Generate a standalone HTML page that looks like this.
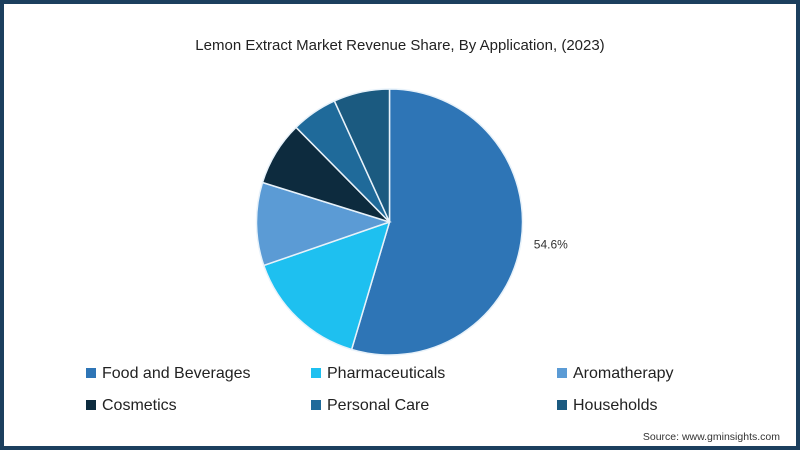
<!DOCTYPE html>
<html><head><meta charset="utf-8"><style>
html,body{margin:0;padding:0;background:#fff}
#frame{position:relative;width:800px;height:450px;box-sizing:border-box;border:4px solid #1c3f5e;background:#fff;font-family:"Liberation Sans","DejaVu Sans",sans-serif;overflow:hidden}
#title{position:absolute;left:0;top:33px;width:792px;text-align:center;font-size:15px;color:#222}
.leg{position:absolute;font-size:16px;color:#222;white-space:nowrap}
.leg span.sw{display:inline-block;width:10px;height:10px;margin-right:6px;vertical-align:0px}
#src{position:absolute;right:16px;top:427px;font-size:10.5px;color:#333}
svg{position:absolute;left:0;top:0}
</style></head><body>
<div id="frame">
<div id="title">Lemon Extract Market Revenue Share, By Application, (2023)</div>
<svg id="pie" width="792" height="442"></svg>
<div class="leg" style="left:82px;top:361px"><span class="sw" style="background:#2e75b6"></span>Food and Beverages</div>
<div class="leg" style="left:307px;top:361px"><span class="sw" style="background:#1ec0f0"></span>Pharmaceuticals</div>
<div class="leg" style="left:553px;top:361px"><span class="sw" style="background:#5b9bd5"></span>Aromatherapy</div>
<div class="leg" style="left:82px;top:393px"><span class="sw" style="background:#0d2b3e"></span>Cosmetics</div>
<div class="leg" style="left:307px;top:393px"><span class="sw" style="background:#1f6a9a"></span>Personal Care</div>
<div class="leg" style="left:553px;top:393px"><span class="sw" style="background:#1b5a80"></span>Households</div>
<div id="src">Source: www.gminsights.com</div>
</div>
<script>
const categories = ["Food and Beverages","Pharmaceuticals","Aromatherapy","Cosmetics","Personal Care","Households"];
const shares = [54.6, 15.1, 10.1, 7.8, 5.6, 6.8];
const colors = ["#2e75b6","#1ec0f0","#5b9bd5","#0d2b3e","#1f6a9a","#1b5a80"];
const labels = ["54.6%"];
const svg = document.getElementById('pie');
const NS = "http://www.w3.org/2000/svg";
const cx = 385.5, cy = 218, r = 133;
const total = shares.reduce((a,b)=>a+b,0);
function pt(a, rad){ return [cx + rad*Math.sin(a), cy - rad*Math.cos(a)]; }
let a0 = 0;
shares.forEach((v,i)=>{
  const a1 = a0 + v/total*2*Math.PI;
  const p0 = pt(a0,r), p1 = pt(a1,r);
  const large = (a1-a0) > Math.PI ? 1 : 0;
  const p = document.createElementNS(NS,'path');
  p.setAttribute('d',`M${cx},${cy} L${p0[0]},${p0[1]} A${r},${r} 0 ${large} 1 ${p1[0]},${p1[1]} Z`);
  p.setAttribute('fill',colors[i]);
  p.setAttribute('stroke','#e8f2fa');
  p.setAttribute('stroke-width','1.5');
  
  
  svg.appendChild(p);
  if (labels[i]) {
    const mid = (a0+a1)/2;
    const lp = pt(mid, r+30);
    const t = document.createElementNS(NS,'text');
    t.setAttribute('x', lp[0]); t.setAttribute('y', lp[1]+3);
    t.setAttribute('text-anchor','middle');
    t.setAttribute('font-size','12');
    t.setAttribute('fill','#333');
    t.setAttribute('font-family','Liberation Sans, sans-serif');
    t.textContent = labels[i];
    
    
    svg.appendChild(t);
  }
  a0 = a1;
});
</script>
</body></html>
